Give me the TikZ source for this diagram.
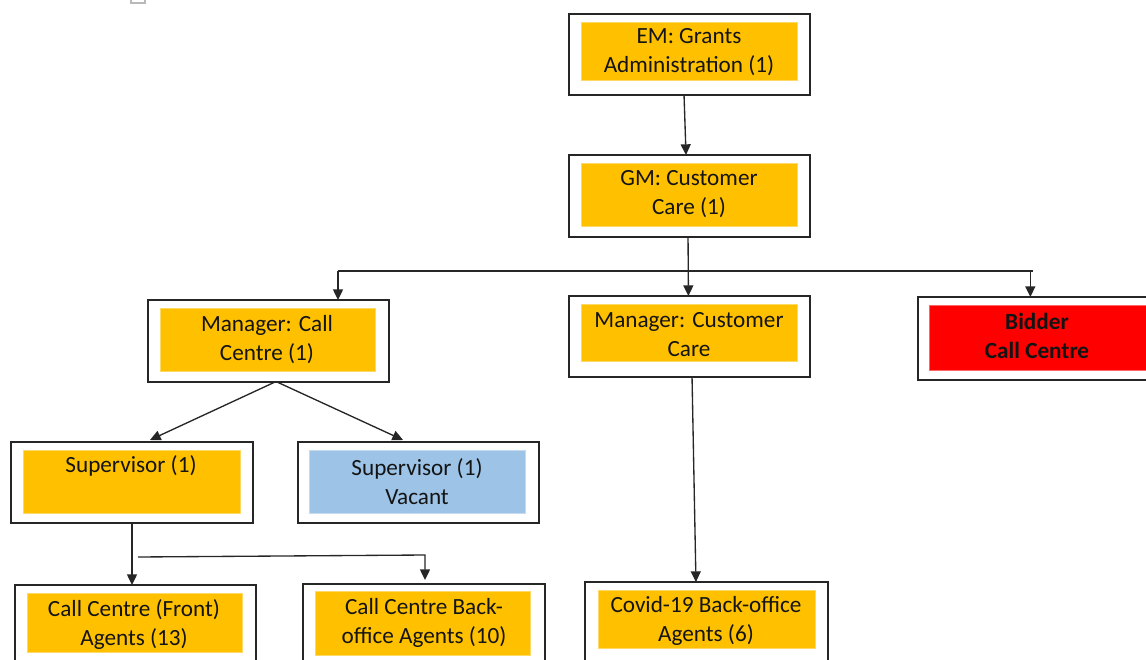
\documentclass[tikz,border=0pt]{standalone}
\usepackage{fontspec}
\setmainfont{Carlito}
\usetikzlibrary{arrows.meta,fit}
\definecolor{org}{HTML}{FFC000}
\definecolor{vac}{HTML}{9DC3E6}
\definecolor{bid}{HTML}{FF0000}
\definecolor{ln}{HTML}{262626}
\begin{document}
\begin{tikzpicture}[x=0.75pt,y=-0.75pt,
  outer/.style={draw=ln, line width=1.5pt, fill=white, inner sep=0pt, outer sep=0pt},
  fillbox/.style={fill=#1, draw=#1!60!white, line width=0.4pt, inner sep=0pt, outer sep=0pt},
  lbl/.style={font=\fontsize{17.4}{21.8}\selectfont, align=center, text=black!92, inner sep=0pt},
  arr/.style={draw=ln, line width=1pt, -{Triangle[width=7.5pt,length=8pt]}},
  lnk/.style={draw=ln, line width=1pt}]
\useasboundingbox (0,0) rectangle (1146,660);
\draw[gray!55, line width=0.8pt] (131,-3) rectangle (145,3);
% outer boxes
\node[outer, fit={(569,14) (810,95)}] (em) {};
\node[outer, fit={(569,155) (810,237)}] (gm) {};
\node[outer, fit={(569,296) (810,377)}] (mcc) {};
\node[outer, fit={(918,297) (1152,380)}] (bd) {};
\node[outer, fit={(148,300) (389,382)}] (mcall) {};
\node[outer, fit={(11,442) (253,523)}] (supa) {};
\node[outer, fit={(298,442) (539,523)}] (supb) {};
\node[outer, fit={(15,585) (256,668)}] (front) {};
\node[outer, fit={(303,584) (545,668)}] (back) {};
\node[outer, fit={(585,582) (828,668)}] (covid) {};
% inner fills
\node[fillbox=org, fit={(581,22) (797,80)}] (emi) {};
\node[fillbox=org, fit={(581,163) (797,226)}] (gmi) {};
\node[fillbox=org, fit={(581,304) (797,361)}] (mcci) {};
\node[fillbox=bid, fit={(929,305) (1150,370)}] (bdi) {};
\node[fillbox=org, fit={(160,308) (375,371)}] (mcalli) {};
\node[fillbox=org, fit={(23,450) (240,513)}] (supai) {};
\node[fillbox=vac, fit={(309,450) (525,513)}] (supbi) {};
\node[fillbox=org, fit={(27,593) (242,652)}] (fronti) {};
\node[fillbox=org, fit={(315,591) (530,655)}] (backi) {};
\node[fillbox=org, fit={(598,590) (815,648)}] (covidi) {};
% labels
\node[lbl] (emt) at (689,52.5) {EM: Grants\\Administration (1)};
\node[lbl] (gmt) at (689,194.5) {GM: Customer\\Care (1)};
\node[lbl] (mcct) at (689,334.5) {Manager: Customer\\Care};
\node[lbl, font=\fontsize{17.4}{21.8}\selectfont\bfseries] (bdt) at (1037,336) {Bidder\\Call Centre};
\node[lbl] (mcallt) at (267,339.5) {Manager: Call\\Centre (1)};
\node[lbl] (supat) at (131,466) {Supervisor (1)};
\node[lbl] (supbt) at (417,481.5) {Supervisor (1)\\Vacant};
\node[lbl] (frontt) at (134,624.5) {Call Centre (Front)\\Agents (13)};
\node[lbl] (backt) at (424,623) {Call Centre Back-\\office Agents (10)};
\node[lbl] (covidt) at (706,620.5) {Covid-19 Back-office\\Agents (6)};
% connectors
\draw[arr] ([xshift=-4.1pt]em.south) -- ([xshift=-2.6pt]gm.north);
\draw[arr] ([xshift=-1.1pt]gm.south) -- ([xshift=-0.8pt]mcc.north);
\coordinate (hl) at (338,271);
\coordinate (hr) at (1033,271);
\draw[lnk] (hl) -- (hr);
\draw[arr] (hl) -- (hl |- mcall.north);
\draw[arr] ([xshift=-2pt]hr) -- ([xshift=-2pt]hr |- bd.north);
\draw[arr] ([xshift=4.9pt]mcall.south) -- ([xshift=13.5pt,yshift=1.5pt]supa.north);
\draw[arr] ([xshift=6.4pt]mcall.south) -- ([xshift=-11.6pt,yshift=1.5pt]supb.north);
\draw[arr] (supa.south) -- (supa.south |- front.north);
\coordinate (sl) at (138,557);
\coordinate (sr) at (425,555);
\draw[arr] (sl) -- (sr) -- ([yshift=3pt]sr |- back.north);
\draw[arr] ([xshift=1.9pt]mcc.south) -- ([xshift=-7.9pt]covid.north);
\end{tikzpicture}
\end{document}
